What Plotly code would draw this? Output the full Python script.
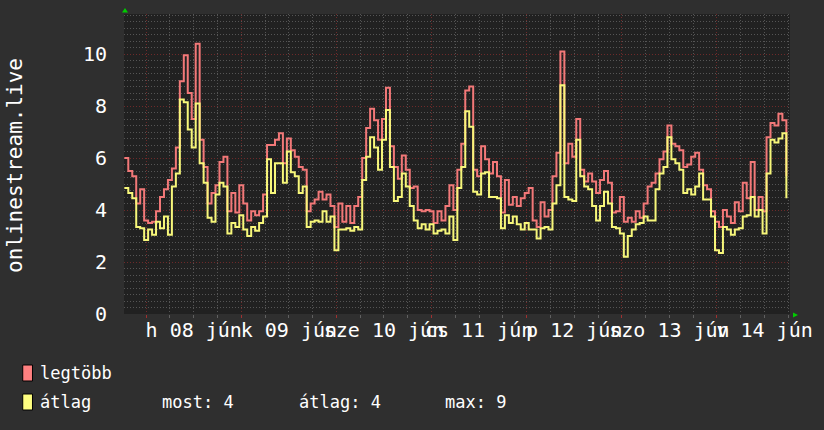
import numpy as np
import pandas as pd
import plotly.graph_objects as go

# ---- data ----
series_names = ["legtöbb", "átlag"]
y_title = "onlinestream.live"

legtobb = [
    6.0, 5.5, 5.3, 4.25, 4.8, 3.6, 3.5, 3.55, 3.95, 4.5,
    4.8, 5.15, 5.6, 6.4, 8.95, 9.95, 8.5, 7.5, 10.4, 6.7,
    5.65, 4.25, 4.65, 4.95, 5.85, 6.05, 3.95, 4.65, 3.9, 4.95,
    4.25, 3.6, 3.95, 3.8, 3.95, 4.6, 6.5, 6.5, 6.7, 6.95,
    5.8, 6.75, 6.3, 6.05, 5.65, 5.55, 3.95, 4.25, 4.4, 4.7,
    4.4, 4.6, 4.15, 3.35, 4.25, 3.55, 4.15, 3.5, 4.15, 4.5,
    6.0, 7.15, 7.9, 7.45, 6.7, 7.5, 8.7, 6.45, 5.65, 5.2,
    6.1, 5.55, 4.85, 4.9, 4.0, 3.95, 4.0, 3.95, 3.5, 3.95,
    3.6, 4.15, 4.95, 4.0, 5.55, 6.55, 8.6, 8.75, 5.55, 5.3,
    6.45, 5.95, 5.4, 5.85, 5.3, 3.9, 5.15, 4.2, 4.5, 4.15,
    4.45, 4.65, 4.85, 3.6, 3.35, 4.3, 3.75, 4.0, 5.3, 6.2,
    10.1, 5.8, 6.55, 6.05, 7.5, 5.55, 5.1, 5.4, 5.1, 4.65,
    5.15, 5.5, 5.05, 3.9, 3.95, 4.5, 3.55, 3.7, 3.55, 3.95,
    3.7, 4.25, 4.9, 5.05, 5.4, 5.95, 6.25, 7.25, 6.55, 6.45,
    6.3, 5.65, 5.75, 6.05, 6.2, 5.55, 4.95, 4.8, 3.95, 3.55,
    3.35, 4.0, 3.75, 3.5, 4.3, 3.95, 5.05, 4.45, 5.85, 4.0,
    4.5, 3.95, 6.8, 7.35, 7.25, 7.7, 7.45, 5.3,
]
atlag = [
    4.85, 4.65, 4.45, 3.35, 3.3, 2.85, 3.25, 3.05, 3.55, 3.3,
    3.75, 3.05, 4.9, 5.4, 8.25, 8.15, 7.1, 6.4, 8.1, 5.8,
    5.05, 3.7, 3.55, 4.6, 5.05, 4.9, 3.1, 3.5, 3.35, 3.8,
    3.25, 3.0, 3.35, 3.2, 3.5, 3.75, 5.95, 4.65, 5.8, 5.8,
    5.05, 6.25, 5.45, 5.3, 4.65, 4.9, 3.35, 3.55, 3.6, 3.55,
    3.95, 3.55, 3.75, 2.45, 3.25, 3.25, 3.3, 3.2, 3.35, 3.25,
    5.15, 6.05, 6.8, 6.4, 5.55, 6.7, 7.85, 5.65, 4.35, 4.5,
    5.4, 4.9, 4.15, 3.6, 3.3, 3.45, 3.25, 3.45, 3.1, 3.2,
    3.25, 3.1, 3.75, 2.85, 4.85, 5.65, 7.8, 7.2, 4.7, 4.6,
    5.4, 5.45, 4.5, 4.5, 4.45, 3.3, 3.8, 3.5, 3.75, 3.45,
    3.25, 3.5, 3.25, 3.25, 2.9, 3.3, 3.35, 3.25, 4.25, 4.95,
    8.8, 4.5, 4.4, 4.35, 6.7, 5.3, 4.9, 4.8, 4.15, 3.6,
    4.15, 4.7, 4.25, 3.35, 3.3, 3.1, 2.2, 3.0, 3.25, 3.45,
    3.5, 3.75, 3.6, 3.6, 4.8, 5.4, 5.65, 6.8, 5.95, 5.8,
    5.55, 4.65, 4.8, 4.6, 4.9, 5.4, 4.4, 4.4, 3.75, 2.45,
    2.35, 3.35, 3.25, 3.05, 3.25, 3.3, 3.75, 3.8, 4.5, 3.75,
    4.0, 3.1, 5.4, 6.7, 6.6, 6.75, 6.95, 4.45,
]
day_labels = ["h 08 jún", "k 09 jún", "sze 10 jún", "cs 11 jún",
              "p 12 jún", "szo 13 jún", "v 14 jún"]
y_tick_values = [0, 2, 4, 6, 8, 10]

times = pd.date_range("2020-06-07 18:30", periods=len(atlag), freq="h")
x_range = ["2020-06-07 18:25", "2020-06-14 18:25"]
midnights = pd.date_range("2020-06-08", periods=7, freq="D")
noons = midnights + pd.Timedelta(hours=12)
six_hours = pd.date_range("2020-06-07 18:00", "2020-06-14 18:00", freq="6h")

FONT = "DejaVu Sans Mono"
RED = "#f27878"
YEL = "#f7f77a"
MAJ_GRID = "#6e2a2a"
MIN_GRID = "#555555"

# legend numbers (from the average series)
most = atlag[-1]
avg = float(np.mean(atlag))
mx = max(atlag)

# plot area in pixels
L, R, T, B = 124, 808, 14, 314
W, H = 824, 430


def px(x):
    return (x - L) / (R - L)


def py(y):
    return (B - y) / (B - T)


fig = go.Figure()
fig.add_trace(go.Scatter(x=times, y=legtobb, mode="lines", name=series_names[0],
                         line=dict(color=RED, width=2, shape="hv")))
fig.add_trace(go.Scatter(x=times, y=atlag, mode="lines", name=series_names[1],
                         line=dict(color=YEL, width=2, shape="hv")))
fig.add_trace(go.Scatter(x=noons, y=[None] * len(noons), xaxis="x2", mode="markers",
                         showlegend=False, hoverinfo="skip"))

fig.update_layout(
    width=W, height=H,
    margin=dict(l=L, r=W - R, t=T, b=H - B, pad=0),
    paper_bgcolor="#2f2f2f",
    plot_bgcolor="#212121",
    showlegend=False,
    font=dict(family=FONT, color="#ffffff"),
    xaxis=dict(
        type="date", range=x_range, tickmode="array", tickvals=midnights,
        showticklabels=False, showgrid=True, gridcolor=MAJ_GRID, griddash="1px,2px",
        gridwidth=1, ticks="outside", ticklen=3, tickcolor="#a03030",
        zeroline=False, showline=False,
        minor=dict(tickmode="array", tickvals=six_hours, showgrid=True,
                   gridcolor=MIN_GRID, griddash="1px,2px", gridwidth=1,
                   ticks="outside", ticklen=3, tickcolor="#606060"),
    ),
    xaxis2=dict(
        type="date", range=x_range, overlaying="x", anchor="y", side="bottom",
        tickmode="array", tickvals=noons, ticktext=day_labels,
        showgrid=False, zeroline=False, showline=False, ticks="",
        tickangle=0, ticklabeloverflow="allow",
        tickfont=dict(family=FONT, size=20, color="#ffffff"),
        ticklabelstandoff=2,
    ),
    yaxis=dict(
        range=[0, 11.54], tickmode="array", tickvals=y_tick_values,
        ticktext=[str(v) for v in y_tick_values],
        showgrid=True, gridcolor=MAJ_GRID, griddash="1px,2px", gridwidth=1,
        zeroline=False, showline=False, ticks="",
        tickfont=dict(family=FONT, size=20, color="#ffffff"),
        ticklabelstandoff=16,
        minor=dict(tickmode="array", tickvals=list(np.arange(0, 11.6, 0.25)),
                   showgrid=True, gridcolor=MIN_GRID, griddash="1px,2px", gridwidth=1),
    ),
)

shapes = []
# legend swatches
for (ytop, ybot), col in [((365, 381), "#ff8080"), ((394, 410), "#ffff80")]:
    shapes.append(dict(type="rect", xref="paper", yref="paper",
                       x0=px(20), x1=px(30), y0=py(ybot), y1=py(ytop),
                       fillcolor=col, line=dict(color="#000000", width=1)))
# green arrows (rrdtool axis arrows)
shapes.append(dict(type="path", xref="paper", yref="paper", xsizemode="pixel",
                   ysizemode="pixel", xanchor=0, yanchor=1,
                   path="M -2,1.5 L 4,1.5 L 1,6 Z", fillcolor="#00cc00",
                   line=dict(width=0)))
shapes.append(dict(type="path", xref="paper", yref="paper", xsizemode="pixel",
                   ysizemode="pixel", xanchor=1, yanchor=0,
                   path="M 3,-3.5 L 3,1.5 L 8,-1 Z", fillcolor="#00cc00",
                   line=dict(width=0)))
fig.update_layout(shapes=shapes)

ann_font = dict(family=FONT, size=17, color="#ffffff")
annotations = [
    dict(text=y_title, xref="paper", yref="paper", x=px(12), y=py(165),
         xanchor="center", yanchor="middle", textangle=-90, showarrow=False,
         font=dict(family=FONT, size=21, color="#ffffff")),
    dict(text=series_names[0], xref="paper", yref="paper", x=px(36), y=py(373),
         xanchor="left", yanchor="middle", showarrow=False, font=ann_font),
    dict(text=series_names[1], xref="paper", yref="paper", x=px(36), y=py(402),
         xanchor="left", yanchor="middle", showarrow=False, font=ann_font),
    dict(text=f"most: {most:.0f}", xref="paper", yref="paper", x=px(161), y=py(402),
         xanchor="left", yanchor="middle", showarrow=False, font=ann_font),
    dict(text=f"átlag: {avg:.0f}", xref="paper", yref="paper", x=px(302), y=py(402),
         xanchor="left", yanchor="middle", showarrow=False, font=ann_font),
    dict(text=f"max: {mx:.0f}", xref="paper", yref="paper", x=px(452), y=py(402),
         xanchor="left", yanchor="middle", showarrow=False, font=ann_font),
]
fig.update_layout(annotations=annotations)

fig.write_html("out.html")
